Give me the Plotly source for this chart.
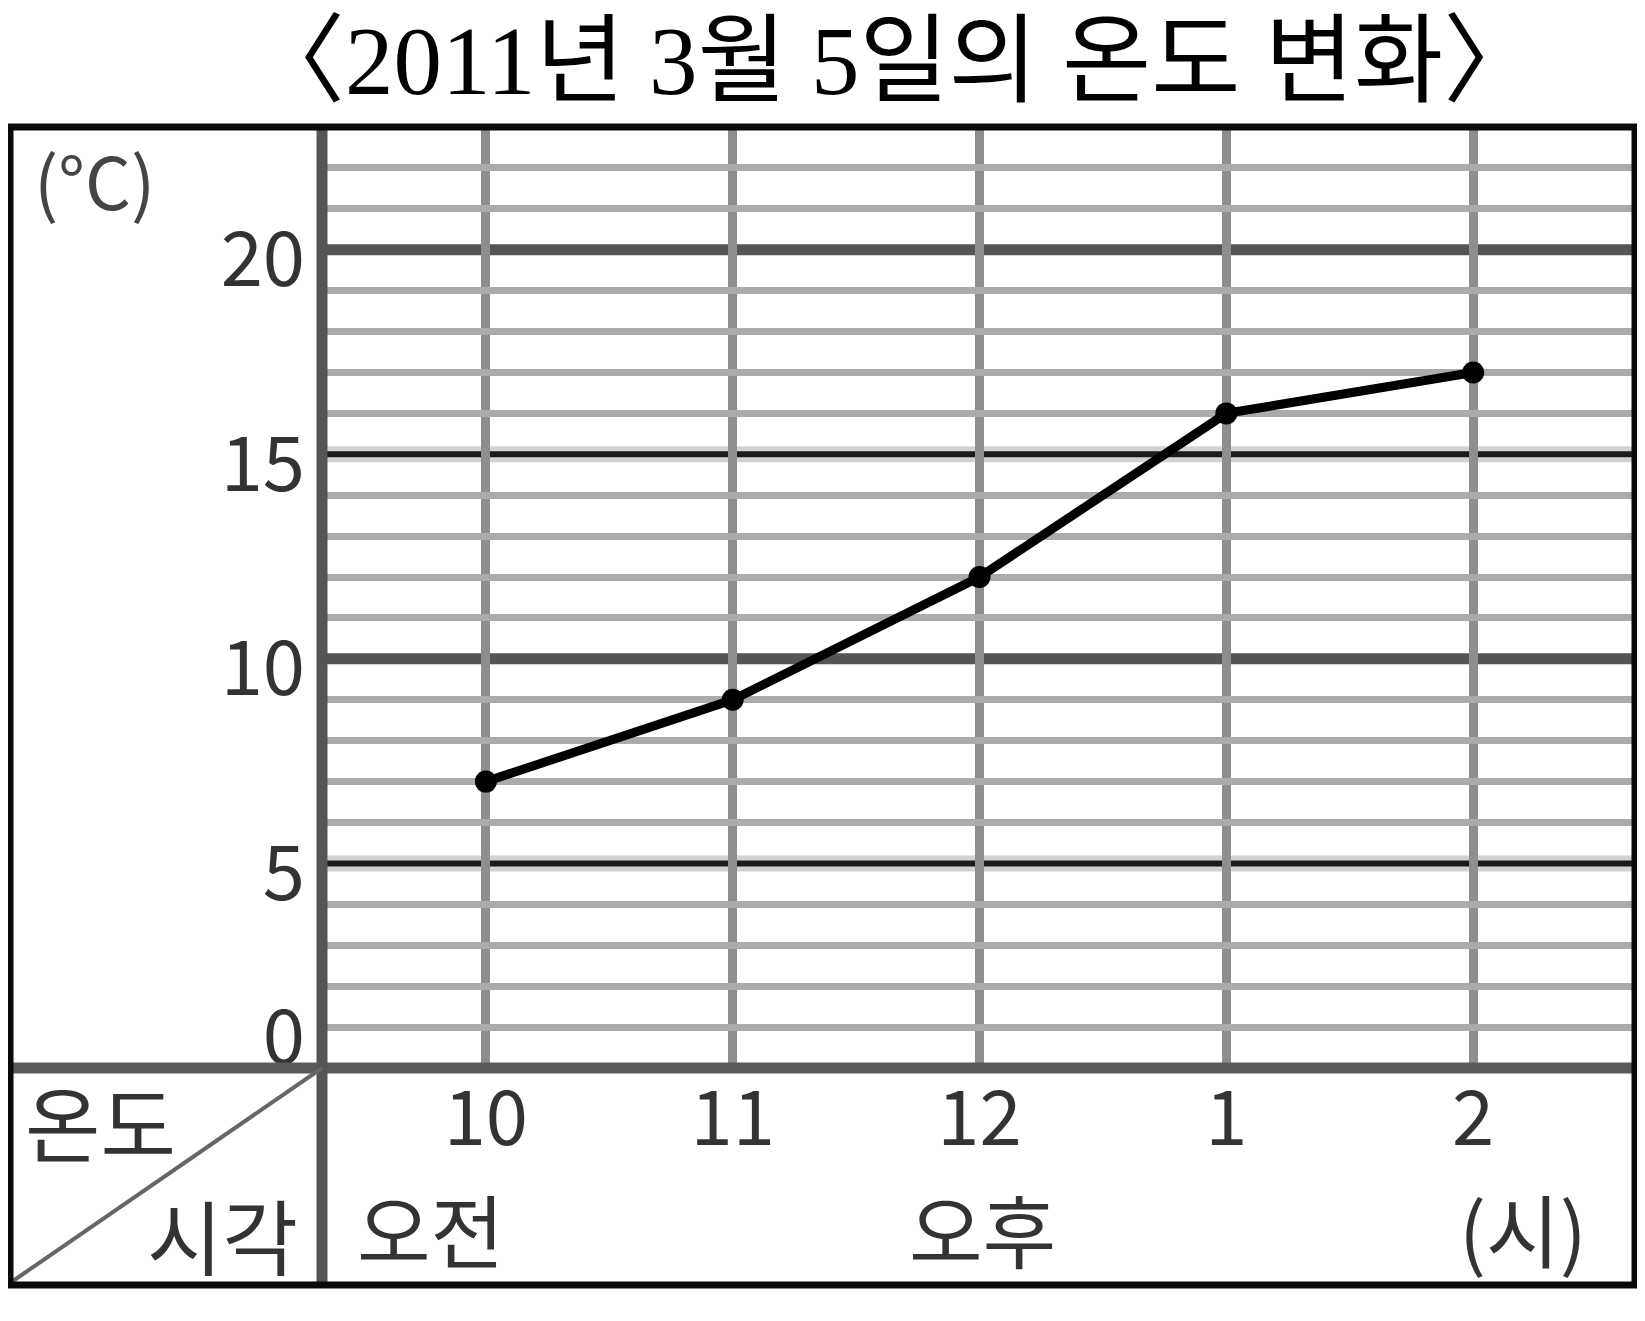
import plotly.graph_objects as go

# ---- data ----
times = ["10", "11", "12", "1", "2"]
temps = [7, 9, 12, 16, 17]
y_tick_vals = [1, 5, 10, 15, 20]
y_tick_text = ["0", "5", "10", "15", "20"]
major_black = [5, 15]
major_gray = [10, 20]
title_text = "〈2011년 3월 5일의 온도 변화〉"
unit_text = "(°C)"
period_labels = ["오전", "오후", "(시)"]
corner_labels = ["온도", "시각"]

Y_RANGE = [0, 23]
minor_vals = [v for v in range(Y_RANGE[0] + 1, Y_RANGE[1]) if v not in major_black + major_gray]

OFF = 8  # default body margin of the html page
W, H = 1645 - OFF, 1321 - 2 * OFF
# plot area (page pixels of the reference)
PL, PR, PT, PB = 322, 1637, 127, 1068
L, R, T, B = PL - OFF, PR - OFF, PT - OFF, PB - OFF


def xp(px):
    return (px - PL) / (PR - PL)


def yp(py):
    return (PB - py) / (PB - PT)


KFONT = "Noto Sans CJK KR, Noto Sans, sans-serif"

fig = go.Figure()
# invisible copy on the grid axis so that its grid is drawn
fig.add_trace(go.Scatter(
    x=times, y=temps, mode="lines", yaxis="y",
    line=dict(color="rgba(0,0,0,0)", width=0), hoverinfo="skip", showlegend=False,
))
fig.add_trace(go.Scatter(
    x=times, y=temps, mode="lines+markers", yaxis="y2",
    line=dict(color="#000000", width=9),
    marker=dict(color="#000000", size=22),
    cliponaxis=False, showlegend=False,
))

shapes = []
for v in major_black:
    shapes.append(dict(type="line", xref="paper", yref="y2", x0=0, x1=1, y0=v, y1=v,
                       line=dict(color="#d2d2d2", width=16), layer="below"))
    shapes.append(dict(type="line", xref="paper", yref="y2", x0=0, x1=1, y0=v, y1=v,
                       line=dict(color="#1c1c1c", width=6), layer="below"))
for v in major_gray:
    shapes.append(dict(type="line", xref="paper", yref="y2", x0=0, x1=1, y0=v, y1=v,
                       line=dict(color="#555555", width=11), layer="below"))

# frame / dividers
shapes.append(dict(type="line", xref="paper", yref="paper", x0=xp(8), x1=xp(1637), y0=yp(1068), y1=yp(1068),
                   line=dict(color="#5a5a5a", width=11)))
shapes.append(dict(type="line", xref="paper", yref="paper", x0=0, x1=0, y0=yp(127), y1=yp(1285),
                   line=dict(color="#555555", width=11)))
shapes.append(dict(type="line", xref="paper", yref="paper", x0=xp(10), x1=xp(322), y0=yp(1283), y1=yp(1068),
                   line=dict(color="#666666", width=4)))
shapes.append(dict(type="rect", xref="paper", yref="paper", x0=xp(10), x1=xp(1635), y0=yp(1285), y1=yp(127),
                   line=dict(color="#0a0a0a", width=7)))

annotations = [
    dict(text=title_text, xref="paper", yref="paper", x=xp(894), y=yp(62), showarrow=False,
         xanchor="center", yanchor="middle",
         font=dict(family="Liberation Serif, Noto Sans CJK KR, serif", size=97, color="#000000")),
    dict(text=unit_text, xref="paper", yref="paper", x=xp(94), y=yp(178), showarrow=False,
         xanchor="center", yanchor="middle", font=dict(family=KFONT, size=72, color="#444444")),
    dict(text=corner_labels[0], xref="paper", yref="paper", x=xp(100), y=yp(1120), showarrow=False,
         xanchor="center", yanchor="middle", font=dict(family=KFONT, size=82, color="#333333")),
    dict(text=corner_labels[1], xref="paper", yref="paper", x=xp(222), y=yp(1233), showarrow=False,
         xanchor="center", yanchor="middle", font=dict(family=KFONT, size=82, color="#333333")),
]
for lbl, cx in zip(period_labels, [430, 982, 1523]):
    annotations.append(dict(text=lbl, xref="paper", yref="paper", x=xp(cx), y=yp(1227), showarrow=False,
                            xanchor="center", yanchor="middle",
                            font=dict(family=KFONT, size=80, color="#333333")))

fig.update_layout(
    width=W, height=H,
    margin=dict(l=L, r=W - R, t=T, b=H - B, pad=0),
    paper_bgcolor="white", plot_bgcolor="white",
    shapes=shapes, annotations=annotations,
    showlegend=False,
    xaxis=dict(
        type="category", categoryorder="array", categoryarray=times,
        range=[-0.664, 4.664], showgrid=True, gridcolor="#8e8e8e", gridwidth=9,
        zeroline=False, showline=False, ticks="",
        tickfont=dict(family=KFONT, size=76, color="#333333"),
        ticklabelstandoff=0, fixedrange=True,
    ),
    # grid-only axis: thin 1 °C lines
    yaxis=dict(
        range=Y_RANGE, tickmode="array", tickvals=minor_vals, showticklabels=False,
        showgrid=True, gridcolor="#ababab", gridwidth=7,
        zeroline=False, showline=False, ticks="", fixedrange=True,
    ),
    # labelled axis
    yaxis2=dict(
        range=Y_RANGE, overlaying="y", side="left", tickmode="array",
        tickvals=y_tick_vals, ticktext=y_tick_text, showgrid=False,
        zeroline=False, showline=False, ticks="",
        tickfont=dict(family=KFONT, size=76, color="#333333"),
        ticklabelstandoff=16, ticklabelshift=10, fixedrange=True,
    ),
)

fig.write_html("out.html")
